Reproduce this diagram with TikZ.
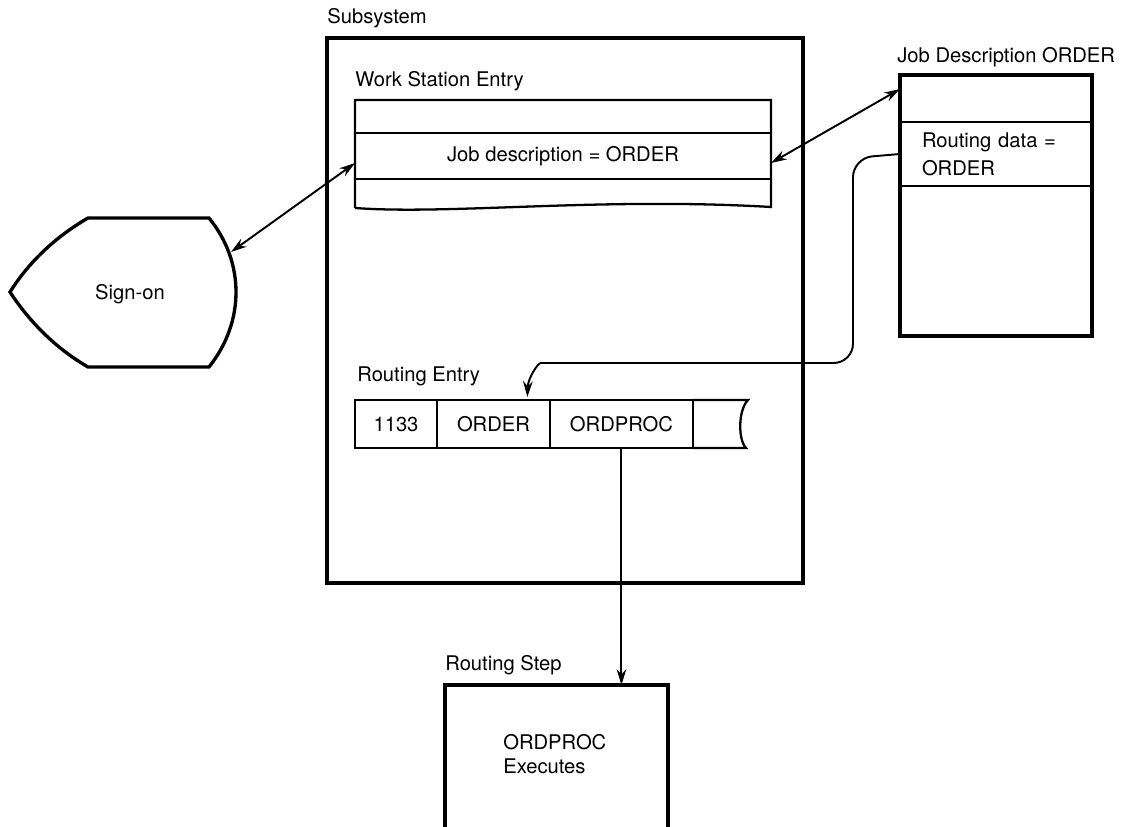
\documentclass[tikz,border=0pt]{standalone}
\usepackage{fontspec}
\setmainfont{TeX Gyre Heros}
\usetikzlibrary{arrows.meta,calc,positioning}
\tikzset{
  heavybox/.style={draw, line width=1.9pt, inner sep=0pt, outer sep=0pt},
  rowbox/.style={draw, line width=1.2pt, inner sep=0pt, outer sep=0pt},
  cellbox/.style={draw, line width=1.3pt, inner sep=0pt, outer sep=0pt, minimum height=0.96cm},
  title/.style={anchor=west, inner sep=0pt},
  link/.style={line width=1.1pt, -{Stealth[length=9pt,width=5.5pt]}},
  twoway/.style={line width=1.1pt, {Stealth[length=9pt,width=5.5pt]}-{Stealth[length=9pt,width=5.5pt]}},
}

\begin{document}
\begin{tikzpicture}[x=0.02cm, y=-0.02cm, every node/.style={font=\fontsize{11.5}{14}\selectfont}]
\useasboundingbox (0,0) rectangle (1134,827);
\clip (0,0) rectangle (1134,827);

%% Subsystem frame
\node[heavybox, minimum width=9.52cm, minimum height=10.9cm] (subsys) at (565,310.5) {};
\node[title] (lblsub) at (327,18) {Subsystem};

%% Work station entry
\node[title] (lblwse) at (355,81) {Work Station Entry};
\draw[line width=1.3pt] (355,208) -- (355,100) -- (771,100) -- (771,207)
  .. controls (600,197) and (450,215) .. (355,208);
\node[rowbox, minimum width=8.32cm, minimum height=0.92cm] (jobdesc) at (563,156)
  {Job description = ORDER};

%% Sign-on
\draw[line width=1.9pt] (88,218) -- (209,218)
  .. controls (245,262) and (245,322) .. (209,367) -- (88,367)
  .. controls (50,345) and (25,315) .. (10,292)
  .. controls (25,268) and (50,240) .. (88,218) -- cycle;
\coordinate (signon-r) at (231,252);
\node (signon) at (130,294) {Sign-on};

%% Job description ORDER
\node[title] (lbljd) at (897,57) {Job Description ORDER};
\node[heavybox, minimum width=3.84cm, minimum height=5.22cm] (jdbox) at (996,205.5) {};
\node[rowbox, minimum height=1.28cm, inner xsep=0.44cm, text width=2.96cm, align=left,
  font=\fontsize{11.5}{16}\selectfont] (rdata) at (996,154) {Routing data =\\ORDER};

%% Routing entry
\node[title] (lblre) at (357,376) {Routing Entry};
\node[cellbox, minimum width=1.64cm] (rid) at (396,424) {1133};
\node[cellbox, minimum width=2.26cm, right=0pt of rid] (rorder) {ORDER};
\node[cellbox, minimum width=2.86cm, right=0pt of rorder] (rproc) {ORDPROC};
\draw[line width=1.3pt] (rproc.north east) -- (748,400)
  .. controls (738,410) and (738,440) .. (746,448) -- (rproc.south east);

%% Routing step
\node[title] (lblrs) at (445,665) {Routing Step};
\node[heavybox, minimum width=4.46cm, minimum height=3.4cm] (step) at (556.5,770) {};
\node[title, align=left] (steptext) at (503,754) {ORDPROC\\Executes};

%% Connectors
\draw[twoway] (signon-r) -- ([yshift=-4pt]jobdesc.west);
\draw[twoway] ([yshift=-4pt]jobdesc.east) -- ($(jdbox.north west)+(0,14)$);
\coordinate (rorder-tip) at ($(rorder.north east)!0.4!(rorder.north)+(0,-3)$);
\draw[link, rounded corners=11pt] (rdata.west) -- (853,158) -- (853,363) -- (560,363)
  .. controls (538,363) and (528,378) .. (rorder-tip);
\draw[link] (rproc.south) -- (rproc.south |- step.north);

\end{tikzpicture}
\end{document}
